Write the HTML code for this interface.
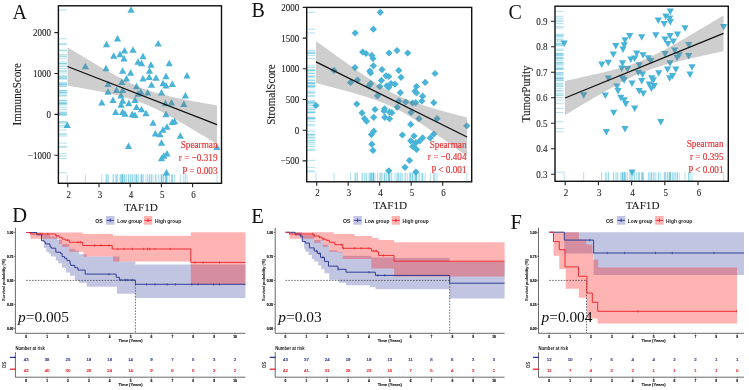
<!DOCTYPE html><html><head><meta charset="utf-8"><style>html,body{margin:0;padding:0;background:#fff;overflow:hidden}svg{display:block;will-change:transform}</style></head><body>
<svg width="749" height="390" viewBox="0 0 749 390">
<rect width="749" height="390" fill="#fff"/>
<text x="12.6" y="18.5" font-family='"Liberation Serif", serif' font-size="20" fill="#111">A</text>
<path d="M58.9,10.0H66.9M131.0,182.8V174.3M58.9,38.8H66.9M117.5,182.8V174.3M58.9,44.6H66.9M106.5,182.8V174.3M58.9,50.8H66.9M124.5,182.8V174.3M58.9,50.0H66.9M133.0,182.8V174.3M58.9,56.0H66.9M113.7,182.8V174.3M58.9,54.6H66.9M120.0,182.8V174.3M58.9,43.8H66.9M158.2,182.8V174.3M58.9,56.6H66.9M143.0,182.8V174.3M58.9,66.5H66.9M85.4,182.8V174.3M58.9,68.5H66.9M106.0,182.8V174.3M58.9,58.8H66.9M124.0,182.8V174.3M58.9,62.0H66.9M138.0,182.8V174.3M58.9,71.0H66.9M122.6,182.8V174.3M58.9,73.0H66.9M130.6,182.8V174.3M58.9,78.8H66.9M126.5,182.8V174.3M58.9,82.4H66.9M121.8,182.8V174.3M58.9,84.2H66.9M108.0,182.8V174.3M58.9,86.5H66.9M136.5,182.8V174.3M58.9,90.4H66.9M116.5,182.8V174.3M58.9,92.0H66.9M108.0,182.8V174.3M58.9,90.4H66.9M122.6,182.8V174.3M58.9,95.8H66.9M121.0,182.8V174.3M58.9,94.0H66.9M138.0,182.8V174.3M58.9,102.7H66.9M101.8,182.8V174.3M58.9,100.4H66.9M113.0,182.8V174.3M58.9,101.0H66.9M122.6,182.8V174.3M58.9,105.0H66.9M121.0,182.8V174.3M58.9,103.5H66.9M128.8,182.8V174.3M58.9,100.4H66.9M135.0,182.8V174.3M58.9,107.3H66.9M136.5,182.8V174.3M58.9,112.2H66.9M115.7,182.8V174.3M58.9,112.3H66.9M122.6,182.8V174.3M58.9,114.0H66.9M125.0,182.8V174.3M58.9,114.5H66.9M132.3,182.8V174.3M58.9,115.4H66.9M135.0,182.8V174.3M58.9,63.5H66.9M141.5,182.8V174.3M58.9,65.0H66.9M151.0,182.8V174.3M58.9,63.5H66.9M169.2,182.8V174.3M58.9,71.0H66.9M149.5,182.8V174.3M58.9,77.3H66.9M149.2,182.8V174.3M58.9,78.0H66.9M156.0,182.8V174.3M58.9,78.8H66.9M143.0,182.8V174.3M58.9,76.5H66.9M166.0,182.8V174.3M58.9,75.8H66.9M187.0,182.8V174.3M58.9,85.0H66.9M151.5,182.8V174.3M58.9,83.5H66.9M163.0,182.8V174.3M58.9,85.8H66.9M166.0,182.8V174.3M58.9,84.2H66.9M172.3,182.8V174.3M58.9,92.7H66.9M161.5,182.8V174.3M58.9,92.7H66.9M147.7,182.8V174.3M58.9,92.0H66.9M140.8,182.8V174.3M58.9,95.8H66.9M185.4,182.8V174.3M58.9,103.5H66.9M165.4,182.8V174.3M58.9,102.7H66.9M171.5,182.8V174.3M58.9,104.2H66.9M183.8,182.8V174.3M58.9,109.6H66.9M141.5,182.8V174.3M58.9,113.5H66.9M146.0,182.8V174.3M58.9,114.5H66.9M166.0,182.8V174.3M58.9,125.4H66.9M67.2,182.8V174.3M58.9,146.3H66.9M128.5,182.8V174.3M58.9,123.0H66.9M153.0,182.8V174.3M58.9,121.5H66.9M174.6,182.8V174.3M58.9,122.3H66.9M172.3,182.8V174.3M58.9,127.0H66.9M167.0,182.8V174.3M58.9,130.0H66.9M163.0,182.8V174.3M58.9,133.8H66.9M155.4,182.8V174.3M58.9,134.6H66.9M160.0,182.8V174.3M58.9,136.0H66.9M180.3,182.8V174.3M58.9,143.0H66.9M161.5,182.8V174.3M58.9,147.3H66.9M217.0,182.8V174.3M58.9,153.8H66.9M167.0,182.8V174.3M58.9,156.0H66.9M163.8,182.8V174.3M58.9,158.5H66.9M161.5,182.8V174.3M58.9,172.8H66.9M166.4,182.8V174.3" stroke="#5cc0dc" stroke-width="0.9" stroke-opacity="0.55" fill="none"/>
<path d="M131.0,6.2L134.6,12.7L127.4,12.7ZM117.5,35.0L121.1,41.5L113.9,41.5ZM106.5,40.8L110.1,47.3L102.9,47.3ZM124.5,47.0L128.1,53.5L120.9,53.5ZM133.0,46.2L136.6,52.7L129.4,52.7ZM113.7,52.2L117.3,58.7L110.1,58.7ZM120.0,50.8L123.6,57.3L116.4,57.3ZM158.2,40.0L161.8,46.5L154.6,46.5ZM143.0,52.8L146.6,59.3L139.4,59.3ZM85.4,62.7L89.0,69.2L81.8,69.2ZM106.0,64.7L109.6,71.2L102.4,71.2ZM124.0,55.0L127.6,61.5L120.4,61.5ZM138.0,58.2L141.6,64.7L134.4,64.7ZM122.6,67.2L126.2,73.7L119.0,73.7ZM130.6,69.2L134.2,75.7L127.0,75.7ZM126.5,75.0L130.1,81.5L122.9,81.5ZM121.8,78.6L125.4,85.1L118.2,85.1ZM108.0,80.4L111.6,86.9L104.4,86.9ZM136.5,82.7L140.1,89.2L132.9,89.2ZM116.5,86.6L120.1,93.1L112.9,93.1ZM108.0,88.2L111.6,94.7L104.4,94.7ZM122.6,86.6L126.2,93.1L119.0,93.1ZM121.0,92.0L124.6,98.5L117.4,98.5ZM138.0,90.2L141.6,96.7L134.4,96.7ZM101.8,98.9L105.4,105.4L98.2,105.4ZM113.0,96.6L116.6,103.1L109.4,103.1ZM122.6,97.2L126.2,103.7L119.0,103.7ZM121.0,101.2L124.6,107.7L117.4,107.7ZM128.8,99.7L132.4,106.2L125.2,106.2ZM135.0,96.6L138.6,103.1L131.4,103.1ZM136.5,103.5L140.1,110.0L132.9,110.0ZM115.7,108.4L119.3,114.9L112.1,114.9ZM122.6,108.5L126.2,115.0L119.0,115.0ZM125.0,110.2L128.6,116.7L121.4,116.7ZM132.3,110.7L135.9,117.2L128.7,117.2ZM135.0,111.6L138.6,118.1L131.4,118.1ZM141.5,59.7L145.1,66.2L137.9,66.2ZM151.0,61.2L154.6,67.7L147.4,67.7ZM169.2,59.7L172.8,66.2L165.6,66.2ZM149.5,67.2L153.1,73.7L145.9,73.7ZM149.2,73.5L152.8,80.0L145.6,80.0ZM156.0,74.2L159.6,80.7L152.4,80.7ZM143.0,75.0L146.6,81.5L139.4,81.5ZM166.0,72.7L169.6,79.2L162.4,79.2ZM187.0,72.0L190.6,78.5L183.4,78.5ZM151.5,81.2L155.1,87.7L147.9,87.7ZM163.0,79.7L166.6,86.2L159.4,86.2ZM166.0,82.0L169.6,88.5L162.4,88.5ZM172.3,80.4L175.9,86.9L168.7,86.9ZM161.5,88.9L165.1,95.4L157.9,95.4ZM147.7,88.9L151.3,95.4L144.1,95.4ZM140.8,88.2L144.4,94.7L137.2,94.7ZM185.4,92.0L189.0,98.5L181.8,98.5ZM165.4,99.7L169.0,106.2L161.8,106.2ZM171.5,98.9L175.1,105.4L167.9,105.4ZM183.8,100.4L187.4,106.9L180.2,106.9ZM141.5,105.8L145.1,112.3L137.9,112.3ZM146.0,109.7L149.6,116.2L142.4,116.2ZM166.0,110.7L169.6,117.2L162.4,117.2ZM67.2,121.6L70.8,128.1L63.6,128.1ZM128.5,142.5L132.1,149.0L124.9,149.0ZM153.0,119.2L156.6,125.7L149.4,125.7ZM174.6,117.7L178.2,124.2L171.0,124.2ZM172.3,118.5L175.9,125.0L168.7,125.0ZM167.0,123.2L170.6,129.7L163.4,129.7ZM163.0,126.2L166.6,132.7L159.4,132.7ZM155.4,130.0L159.0,136.5L151.8,136.5ZM160.0,130.8L163.6,137.3L156.4,137.3ZM180.3,132.2L183.9,138.7L176.7,138.7ZM161.5,139.2L165.1,145.7L157.9,145.7ZM217.0,143.5L220.6,150.0L213.4,150.0ZM167.0,150.0L170.6,156.5L163.4,156.5ZM163.8,152.2L167.4,158.7L160.2,158.7ZM161.5,154.7L165.1,161.2L157.9,161.2ZM166.4,169.0L170.0,175.5L162.8,175.5Z" fill="#35acd3" fill-opacity="0.9"/>
<path d="M67.5,47.3 L71.2,49.6 L75.0,51.8 L78.7,54.1 L82.5,56.3 L86.2,58.6 L89.9,60.8 L93.7,63.0 L97.4,65.2 L101.1,67.4 L104.9,69.5 L108.6,71.6 L112.3,73.7 L116.1,75.8 L119.8,77.8 L123.6,79.7 L127.3,81.6 L131.0,83.4 L134.8,85.1 L138.5,86.7 L142.2,88.2 L146.0,89.6 L149.7,90.9 L153.5,92.1 L157.2,93.2 L160.9,94.2 L164.7,95.1 L168.4,96.0 L172.2,96.9 L175.9,97.7 L179.6,98.5 L183.4,99.3 L187.1,100.0 L190.8,100.7 L194.6,101.4 L198.3,102.1 L202.1,102.8 L205.8,103.4 L209.5,104.1 L213.3,104.7 L217.0,105.4 L217.0,144.0 L213.3,141.7 L209.5,139.4 L205.8,137.2 L202.1,134.9 L198.3,132.7 L194.6,130.5 L190.8,128.2 L187.1,126.1 L183.4,123.9 L179.6,121.7 L175.9,119.6 L172.2,117.5 L168.4,115.5 L164.7,113.5 L160.9,111.5 L157.2,109.6 L153.5,107.8 L149.7,106.1 L146.0,104.5 L142.2,103.0 L138.5,101.6 L134.8,100.3 L131.0,99.1 L127.3,97.9 L123.6,96.9 L119.8,95.9 L116.1,95.0 L112.3,94.2 L108.6,93.3 L104.9,92.6 L101.1,91.8 L97.4,91.1 L93.7,90.3 L89.9,89.6 L86.2,89.0 L82.5,88.3 L78.7,87.6 L75.0,87.0 L71.2,86.3 L67.5,85.7Z" fill="#777777" fill-opacity="0.36"/>
<line x1="67.5" y1="66.5" x2="217.0" y2="124.6" stroke="#111" stroke-width="1.3"/>
<rect x="58.4" y="5.8" width="163.1" height="177.5" fill="none" stroke="#111" stroke-width="1.4"/>
<path d="M67.8,183.3V187.3M99.0,183.3V187.3M130.2,183.3V187.3M161.4,183.3V187.3M192.6,183.3V187.3M58.4,32.6H54.4M58.4,73.5H54.4M58.4,114.4H54.4M58.4,155.3H54.4" stroke="#222" stroke-width="1.1" fill="none"/>
<text transform="translate(68.7,197.5) scale(0.9,1)" font-family='"Liberation Serif", serif' font-size="10" fill="#222" stroke="#222" stroke-width="0.1" text-anchor="middle">2</text>
<text transform="translate(99.9,197.5) scale(0.9,1)" font-family='"Liberation Serif", serif' font-size="10" fill="#222" stroke="#222" stroke-width="0.1" text-anchor="middle">3</text>
<text transform="translate(131.1,197.5) scale(0.9,1)" font-family='"Liberation Serif", serif' font-size="10" fill="#222" stroke="#222" stroke-width="0.1" text-anchor="middle">4</text>
<text transform="translate(162.3,197.5) scale(0.9,1)" font-family='"Liberation Serif", serif' font-size="10" fill="#222" stroke="#222" stroke-width="0.1" text-anchor="middle">5</text>
<text transform="translate(193.5,197.5) scale(0.9,1)" font-family='"Liberation Serif", serif' font-size="10" fill="#222" stroke="#222" stroke-width="0.1" text-anchor="middle">6</text>
<text transform="translate(51.0,36.0) scale(0.9,1)" font-family='"Liberation Serif", serif' font-size="10" fill="#222" stroke="#222" stroke-width="0.1" text-anchor="end">2000</text>
<text transform="translate(51.0,76.9) scale(0.9,1)" font-family='"Liberation Serif", serif' font-size="10" fill="#222" stroke="#222" stroke-width="0.1" text-anchor="end">1000</text>
<text transform="translate(51.0,117.8) scale(0.9,1)" font-family='"Liberation Serif", serif' font-size="10" fill="#222" stroke="#222" stroke-width="0.1" text-anchor="end">0</text>
<text transform="translate(51.0,158.7) scale(0.9,1)" font-family='"Liberation Serif", serif' font-size="10" fill="#222" stroke="#222" stroke-width="0.1" text-anchor="end">−1000</text>
<text transform="translate(20.9,94.2) rotate(-90) scale(0.92,1)" font-family='"Liberation Serif", serif' font-size="12.1" fill="#222" stroke="#222" stroke-width="0.1" text-anchor="middle">ImmuneScore</text>
<text x="140.9" y="211.3" font-family='"Liberation Serif", serif' font-size="11.2" fill="#222" stroke="#222" stroke-width="0.1" text-anchor="middle">TAF1D</text>
<text transform="translate(217.5,148.2) scale(0.92,1)" font-family='"Liberation Serif", serif' font-size="10" fill="#e6393b" stroke="#e6393b" stroke-width="0.2" text-anchor="end">Spearman</text>
<text transform="translate(217.5,161.1) scale(0.92,1)" font-family='"Liberation Serif", serif' font-size="10" fill="#e6393b" stroke="#e6393b" stroke-width="0.2" text-anchor="end">r = −0.319</text>
<text transform="translate(217.5,173.8) scale(0.92,1)" font-family='"Liberation Serif", serif' font-size="10" fill="#e6393b" stroke="#e6393b" stroke-width="0.2" text-anchor="end">P = 0.003</text>
<text x="251.5" y="17.0" font-family='"Liberation Serif", serif' font-size="20" fill="#111">B</text>
<path d="M307.2,12.3H315.2M380.2,181.3V172.8M307.2,29.2H315.2M373.4,181.3V172.8M307.2,33.0H315.2M355.2,181.3V172.8M307.2,52.0H315.2M362.6,181.3V172.8M307.2,53.5H315.2M366.0,181.3V172.8M307.2,55.4H315.2M371.8,181.3V172.8M307.2,58.5H315.2M373.0,181.3V172.8M307.2,53.0H315.2M389.0,181.3V172.8M307.2,50.5H315.2M397.0,181.3V172.8M307.2,53.0H315.2M407.7,181.3V172.8M307.2,70.4H315.2M334.0,181.3V172.8M307.2,67.6H315.2M355.0,181.3V172.8M307.2,82.4H315.2M350.6,181.3V172.8M307.2,80.0H315.2M357.5,181.3V172.8M307.2,71.0H315.2M369.8,181.3V172.8M307.2,73.0H315.2M370.6,181.3V172.8M307.2,65.8H315.2M373.4,181.3V172.8M307.2,69.6H315.2M382.0,181.3V172.8M307.2,75.8H315.2M386.0,181.3V172.8M307.2,80.4H315.2M381.4,181.3V172.8M307.2,83.5H315.2M370.6,181.3V172.8M307.2,85.8H315.2M369.0,181.3V172.8M307.2,86.5H315.2M379.8,181.3V172.8M307.2,85.8H315.2M386.8,181.3V172.8M307.2,95.8H315.2M377.5,181.3V172.8M307.2,105.5H315.2M316.0,181.3V172.8M307.2,104.0H315.2M356.8,181.3V172.8M307.2,112.9H315.2M362.0,181.3V172.8M307.2,109.5H315.2M375.0,181.3V172.8M307.2,108.8H315.2M384.5,181.3V172.8M307.2,112.0H315.2M389.5,181.3V172.8M307.2,70.4H315.2M398.8,181.3V172.8M307.2,77.3H315.2M401.0,181.3V172.8M307.2,76.5H315.2M388.8,181.3V172.8M307.2,83.5H315.2M391.0,181.3V172.8M307.2,84.2H315.2M395.0,181.3V172.8M307.2,87.3H315.2M388.8,181.3V172.8M307.2,73.5H315.2M435.0,181.3V172.8M307.2,82.4H315.2M425.2,181.3V172.8M307.2,86.5H315.2M416.5,181.3V172.8M307.2,91.2H315.2M415.0,181.3V172.8M307.2,93.0H315.2M416.5,181.3V172.8M307.2,92.7H315.2M400.3,181.3V172.8M307.2,96.2H315.2M422.6,181.3V172.8M307.2,101.0H315.2M421.8,181.3V172.8M307.2,102.7H315.2M433.8,181.3V172.8M307.2,101.0H315.2M398.8,181.3V172.8M307.2,102.0H315.2M405.7,181.3V172.8M307.2,103.0H315.2M412.6,181.3V172.8M307.2,102.7H315.2M415.7,181.3V172.8M307.2,107.3H315.2M397.2,181.3V172.8M307.2,112.7H315.2M391.8,181.3V172.8M307.2,112.5H315.2M411.0,181.3V172.8M307.2,118.7H315.2M364.6,181.3V172.8M307.2,121.2H315.2M366.6,181.3V172.8M307.2,117.3H315.2M373.7,181.3V172.8M307.2,117.3H315.2M384.8,181.3V172.8M307.2,111.0H315.2M384.0,181.3V172.8M307.2,118.7H315.2M389.5,181.3V172.8M307.2,131.2H315.2M373.7,181.3V172.8M307.2,134.6H315.2M371.4,181.3V172.8M307.2,144.2H315.2M371.8,181.3V172.8M307.2,150.4H315.2M373.0,181.3V172.8M307.2,170.8H315.2M388.8,181.3V172.8M307.2,118.7H315.2M419.0,181.3V172.8M307.2,118.7H315.2M437.0,181.3V172.8M307.2,125.8H315.2M466.8,181.3V172.8M307.2,124.4H315.2M410.7,181.3V172.8M307.2,135.0H315.2M402.4,181.3V172.8M307.2,136.0H315.2M414.0,181.3V172.8M307.2,140.8H315.2M410.7,181.3V172.8M307.2,142.7H315.2M415.9,181.3V172.8M307.2,137.9H315.2M422.6,181.3V172.8M307.2,137.9H315.2M430.3,181.3V172.8M307.2,134.0H315.2M433.8,181.3V172.8M307.2,146.5H315.2M412.6,181.3V172.8M307.2,149.4H315.2M416.5,181.3V172.8M307.2,140.8H315.2M419.7,181.3V172.8M307.2,160.4H315.2M409.5,181.3V172.8M307.2,167.3H315.2M405.0,181.3V172.8M307.2,172.0H315.2M415.9,181.3V172.8" stroke="#5cc0dc" stroke-width="0.9" stroke-opacity="0.55" fill="none"/>
<path d="M380.2,8.7L383.8,12.3L380.2,15.9L376.6,12.3ZM373.4,25.6L377.0,29.2L373.4,32.8L369.8,29.2ZM355.2,29.4L358.8,33.0L355.2,36.6L351.6,33.0ZM362.6,48.4L366.2,52.0L362.6,55.6L359.0,52.0ZM366.0,49.9L369.6,53.5L366.0,57.1L362.4,53.5ZM371.8,51.8L375.4,55.4L371.8,59.0L368.2,55.4ZM373.0,54.9L376.6,58.5L373.0,62.1L369.4,58.5ZM389.0,49.4L392.6,53.0L389.0,56.6L385.4,53.0ZM397.0,46.9L400.6,50.5L397.0,54.1L393.4,50.5ZM407.7,49.4L411.3,53.0L407.7,56.6L404.1,53.0ZM334.0,66.8L337.6,70.4L334.0,74.0L330.4,70.4ZM355.0,64.0L358.6,67.6L355.0,71.2L351.4,67.6ZM350.6,78.8L354.2,82.4L350.6,86.0L347.0,82.4ZM357.5,76.4L361.1,80.0L357.5,83.6L353.9,80.0ZM369.8,67.4L373.4,71.0L369.8,74.6L366.2,71.0ZM370.6,69.4L374.2,73.0L370.6,76.6L367.0,73.0ZM373.4,62.2L377.0,65.8L373.4,69.4L369.8,65.8ZM382.0,66.0L385.6,69.6L382.0,73.2L378.4,69.6ZM386.0,72.2L389.6,75.8L386.0,79.4L382.4,75.8ZM381.4,76.8L385.0,80.4L381.4,84.0L377.8,80.4ZM370.6,79.9L374.2,83.5L370.6,87.1L367.0,83.5ZM369.0,82.2L372.6,85.8L369.0,89.4L365.4,85.8ZM379.8,82.9L383.4,86.5L379.8,90.1L376.2,86.5ZM386.8,82.2L390.4,85.8L386.8,89.4L383.2,85.8ZM377.5,92.2L381.1,95.8L377.5,99.4L373.9,95.8ZM316.0,101.9L319.6,105.5L316.0,109.1L312.4,105.5ZM356.8,100.4L360.4,104.0L356.8,107.6L353.2,104.0ZM362.0,109.3L365.6,112.9L362.0,116.5L358.4,112.9ZM375.0,105.9L378.6,109.5L375.0,113.1L371.4,109.5ZM384.5,105.2L388.1,108.8L384.5,112.4L380.9,108.8ZM389.5,108.4L393.1,112.0L389.5,115.6L385.9,112.0ZM398.8,66.8L402.4,70.4L398.8,74.0L395.2,70.4ZM401.0,73.7L404.6,77.3L401.0,80.9L397.4,77.3ZM388.8,72.9L392.4,76.5L388.8,80.1L385.2,76.5ZM391.0,79.9L394.6,83.5L391.0,87.1L387.4,83.5ZM395.0,80.6L398.6,84.2L395.0,87.8L391.4,84.2ZM388.8,83.7L392.4,87.3L388.8,90.9L385.2,87.3ZM435.0,69.9L438.6,73.5L435.0,77.1L431.4,73.5ZM425.2,78.8L428.8,82.4L425.2,86.0L421.6,82.4ZM416.5,82.9L420.1,86.5L416.5,90.1L412.9,86.5ZM415.0,87.6L418.6,91.2L415.0,94.8L411.4,91.2ZM416.5,89.4L420.1,93.0L416.5,96.6L412.9,93.0ZM400.3,89.1L403.9,92.7L400.3,96.3L396.7,92.7ZM422.6,92.6L426.2,96.2L422.6,99.8L419.0,96.2ZM421.8,97.4L425.4,101.0L421.8,104.6L418.2,101.0ZM433.8,99.1L437.4,102.7L433.8,106.3L430.2,102.7ZM398.8,97.4L402.4,101.0L398.8,104.6L395.2,101.0ZM405.7,98.4L409.3,102.0L405.7,105.6L402.1,102.0ZM412.6,99.4L416.2,103.0L412.6,106.6L409.0,103.0ZM415.7,99.1L419.3,102.7L415.7,106.3L412.1,102.7ZM397.2,103.7L400.8,107.3L397.2,110.9L393.6,107.3ZM391.8,109.1L395.4,112.7L391.8,116.3L388.2,112.7ZM411.0,108.9L414.6,112.5L411.0,116.1L407.4,112.5ZM364.6,115.1L368.2,118.7L364.6,122.3L361.0,118.7ZM366.6,117.6L370.2,121.2L366.6,124.8L363.0,121.2ZM373.7,113.7L377.3,117.3L373.7,120.9L370.1,117.3ZM384.8,113.7L388.4,117.3L384.8,120.9L381.2,117.3ZM384.0,107.4L387.6,111.0L384.0,114.6L380.4,111.0ZM389.5,115.1L393.1,118.7L389.5,122.3L385.9,118.7ZM373.7,127.6L377.3,131.2L373.7,134.8L370.1,131.2ZM371.4,131.0L375.0,134.6L371.4,138.2L367.8,134.6ZM371.8,140.6L375.4,144.2L371.8,147.8L368.2,144.2ZM373.0,146.8L376.6,150.4L373.0,154.0L369.4,150.4ZM388.8,167.2L392.4,170.8L388.8,174.4L385.2,170.8ZM419.0,115.1L422.6,118.7L419.0,122.3L415.4,118.7ZM437.0,115.1L440.6,118.7L437.0,122.3L433.4,118.7ZM466.8,122.2L470.4,125.8L466.8,129.4L463.2,125.8ZM410.7,120.8L414.3,124.4L410.7,128.0L407.1,124.4ZM402.4,131.4L406.0,135.0L402.4,138.6L398.8,135.0ZM414.0,132.4L417.6,136.0L414.0,139.6L410.4,136.0ZM410.7,137.2L414.3,140.8L410.7,144.4L407.1,140.8ZM415.9,139.1L419.5,142.7L415.9,146.3L412.3,142.7ZM422.6,134.3L426.2,137.9L422.6,141.5L419.0,137.9ZM430.3,134.3L433.9,137.9L430.3,141.5L426.7,137.9ZM433.8,130.4L437.4,134.0L433.8,137.6L430.2,134.0ZM412.6,142.9L416.2,146.5L412.6,150.1L409.0,146.5ZM416.5,145.8L420.1,149.4L416.5,153.0L412.9,149.4ZM419.7,137.2L423.3,140.8L419.7,144.4L416.1,140.8ZM409.5,156.8L413.1,160.4L409.5,164.0L405.9,160.4ZM405.0,163.7L408.6,167.3L405.0,170.9L401.4,167.3ZM415.9,168.4L419.5,172.0L415.9,175.6L412.3,172.0Z" fill="#35acd3" fill-opacity="0.9"/>
<path d="M316.0,40.9 L319.8,43.7 L323.6,46.4 L327.3,49.2 L331.1,51.9 L334.9,54.7 L338.6,57.4 L342.4,60.1 L346.2,62.8 L350.0,65.5 L353.8,68.2 L357.5,70.8 L361.3,73.4 L365.1,76.0 L368.9,78.6 L372.6,81.1 L376.4,83.5 L380.2,85.9 L383.9,88.1 L387.7,90.3 L391.5,92.4 L395.3,94.3 L399.1,96.1 L402.8,97.8 L406.6,99.3 L410.4,100.8 L414.1,102.2 L417.9,103.5 L421.7,104.7 L425.5,105.9 L429.2,107.1 L433.0,108.2 L436.8,109.3 L440.6,110.4 L444.4,111.5 L448.1,112.5 L451.9,113.6 L455.7,114.6 L459.4,115.6 L463.2,116.6 L467.0,117.6 L467.0,156.3 L463.2,153.5 L459.4,150.8 L455.7,148.1 L451.9,145.3 L448.1,142.6 L444.4,139.9 L440.6,137.2 L436.8,134.5 L433.0,131.9 L429.2,129.3 L425.5,126.7 L421.7,124.1 L417.9,121.6 L414.1,119.2 L410.4,116.8 L406.6,114.5 L402.8,112.3 L399.1,110.2 L395.3,108.3 L391.5,106.5 L387.7,104.8 L383.9,103.2 L380.2,101.7 L376.4,100.3 L372.6,99.0 L368.9,97.8 L365.1,96.5 L361.3,95.4 L357.5,94.3 L353.8,93.1 L350.0,92.1 L346.2,91.0 L342.4,90.0 L338.6,88.9 L334.9,87.9 L331.1,86.9 L327.3,85.9 L323.6,84.9 L319.8,83.9 L316.0,82.9Z" fill="#777777" fill-opacity="0.36"/>
<line x1="316.0" y1="61.9" x2="467.0" y2="137.0" stroke="#111" stroke-width="1.3"/>
<rect x="306.7" y="7.4" width="165.0" height="174.4" fill="none" stroke="#111" stroke-width="1.4"/>
<path d="M316.7,181.8V185.8M348.2,181.8V185.8M379.7,181.8V185.8M411.2,181.8V185.8M442.7,181.8V185.8M306.7,7.4H302.7M306.7,38.1H302.7M306.7,68.8H302.7M306.7,99.5H302.7M306.7,130.2H302.7M306.7,160.9H302.7" stroke="#222" stroke-width="1.1" fill="none"/>
<text transform="translate(317.6,196.0) scale(0.9,1)" font-family='"Liberation Serif", serif' font-size="10" fill="#222" stroke="#222" stroke-width="0.1" text-anchor="middle">2</text>
<text transform="translate(349.1,196.0) scale(0.9,1)" font-family='"Liberation Serif", serif' font-size="10" fill="#222" stroke="#222" stroke-width="0.1" text-anchor="middle">3</text>
<text transform="translate(380.6,196.0) scale(0.9,1)" font-family='"Liberation Serif", serif' font-size="10" fill="#222" stroke="#222" stroke-width="0.1" text-anchor="middle">4</text>
<text transform="translate(412.1,196.0) scale(0.9,1)" font-family='"Liberation Serif", serif' font-size="10" fill="#222" stroke="#222" stroke-width="0.1" text-anchor="middle">5</text>
<text transform="translate(443.6,196.0) scale(0.9,1)" font-family='"Liberation Serif", serif' font-size="10" fill="#222" stroke="#222" stroke-width="0.1" text-anchor="middle">6</text>
<text transform="translate(299.3,10.8) scale(0.9,1)" font-family='"Liberation Serif", serif' font-size="10" fill="#222" stroke="#222" stroke-width="0.1" text-anchor="end">2000</text>
<text transform="translate(299.3,41.5) scale(0.9,1)" font-family='"Liberation Serif", serif' font-size="10" fill="#222" stroke="#222" stroke-width="0.1" text-anchor="end">1500</text>
<text transform="translate(299.3,72.2) scale(0.9,1)" font-family='"Liberation Serif", serif' font-size="10" fill="#222" stroke="#222" stroke-width="0.1" text-anchor="end">1000</text>
<text transform="translate(299.3,102.9) scale(0.9,1)" font-family='"Liberation Serif", serif' font-size="10" fill="#222" stroke="#222" stroke-width="0.1" text-anchor="end">500</text>
<text transform="translate(299.3,133.6) scale(0.9,1)" font-family='"Liberation Serif", serif' font-size="10" fill="#222" stroke="#222" stroke-width="0.1" text-anchor="end">0</text>
<text transform="translate(299.3,164.3) scale(0.9,1)" font-family='"Liberation Serif", serif' font-size="10" fill="#222" stroke="#222" stroke-width="0.1" text-anchor="end">−500</text>
<text transform="translate(274.5,94.6) rotate(-90) scale(0.92,1)" font-family='"Liberation Serif", serif' font-size="12.1" fill="#222" stroke="#222" stroke-width="0.1" text-anchor="middle">StromalScore</text>
<text x="390.2" y="209.0" font-family='"Liberation Serif", serif' font-size="11.2" fill="#222" stroke="#222" stroke-width="0.1" text-anchor="middle">TAF1D</text>
<text transform="translate(466.5,147.6) scale(0.92,1)" font-family='"Liberation Serif", serif' font-size="10" fill="#e6393b" stroke="#e6393b" stroke-width="0.2" text-anchor="end">Spearman</text>
<text transform="translate(466.5,160.4) scale(0.92,1)" font-family='"Liberation Serif", serif' font-size="10" fill="#e6393b" stroke="#e6393b" stroke-width="0.2" text-anchor="end">r = −0.404</text>
<text transform="translate(466.5,173.2) scale(0.92,1)" font-family='"Liberation Serif", serif' font-size="10" fill="#e6393b" stroke="#e6393b" stroke-width="0.2" text-anchor="end">P &lt; 0.001</text>
<text x="508.5" y="18.5" font-family='"Liberation Serif", serif' font-size="20" fill="#111">C</text>
<path d="M555.5,43.3H563.5M564.2,180.8V172.3M555.5,35.8H563.5M629.7,180.8V172.3M555.5,40.0H563.5M625.0,180.8V172.3M555.5,37.0H563.5M641.7,180.8V172.3M555.5,45.8H563.5M615.8,180.8V172.3M555.5,45.0H563.5M624.2,180.8V172.3M555.5,49.2H563.5M623.0,180.8V172.3M555.5,54.2H563.5M613.3,180.8V172.3M555.5,53.3H563.5M636.7,180.8V172.3M555.5,59.2H563.5M630.8,180.8V172.3M555.5,58.3H563.5M634.7,180.8V172.3M555.5,55.0H563.5M643.0,180.8V172.3M555.5,62.5H563.5M608.3,180.8V172.3M555.5,63.0H563.5M622.5,180.8V172.3M555.5,64.2H563.5M601.7,180.8V172.3M555.5,11.3H563.5M670.3,180.8V172.3M555.5,16.3H563.5M665.8,180.8V172.3M555.5,20.3H563.5M658.3,180.8V172.3M555.5,23.7H563.5M664.2,180.8V172.3M555.5,21.7H563.5M670.3,180.8V172.3M555.5,18.3H563.5M669.7,180.8V172.3M555.5,28.0H563.5M685.0,180.8V172.3M555.5,26.7H563.5M723.7,180.8V172.3M555.5,35.0H563.5M655.8,180.8V172.3M555.5,35.8H563.5M670.0,180.8V172.3M555.5,34.2H563.5M677.5,180.8V172.3M555.5,39.2H563.5M665.0,180.8V172.3M555.5,41.3H563.5M673.3,180.8V172.3M555.5,43.7H563.5M668.0,180.8V172.3M555.5,44.7H563.5M688.7,180.8V172.3M555.5,50.3H563.5M674.7,180.8V172.3M555.5,53.7H563.5M665.0,180.8V172.3M555.5,55.0H563.5M679.2,180.8V172.3M555.5,57.5H563.5M677.0,180.8V172.3M555.5,55.8H563.5M688.7,180.8V172.3M555.5,58.0H563.5M648.3,180.8V172.3M555.5,60.8H563.5M650.8,180.8V172.3M555.5,63.0H563.5M670.0,180.8V172.3M555.5,68.3H563.5M621.7,180.8V172.3M555.5,68.7H563.5M627.5,180.8V172.3M555.5,65.0H563.5M639.2,180.8V172.3M555.5,72.5H563.5M638.3,180.8V172.3M555.5,74.2H563.5M642.5,180.8V172.3M555.5,78.3H563.5M608.3,180.8V172.3M555.5,78.3H563.5M622.5,180.8V172.3M555.5,80.0H563.5M624.2,180.8V172.3M555.5,83.3H563.5M632.0,180.8V172.3M555.5,80.8H563.5M641.7,180.8V172.3M555.5,86.3H563.5M617.0,180.8V172.3M555.5,90.8H563.5M618.0,180.8V172.3M555.5,90.8H563.5M639.2,180.8V172.3M555.5,93.3H563.5M643.3,180.8V172.3M555.5,95.0H563.5M583.7,180.8V172.3M555.5,95.3H563.5M605.3,180.8V172.3M555.5,97.5H563.5M620.8,180.8V172.3M555.5,100.0H563.5M624.2,180.8V172.3M555.5,103.7H563.5M625.8,180.8V172.3M555.5,108.3H563.5M634.7,180.8V172.3M555.5,112.5H563.5M613.7,180.8V172.3M555.5,69.2H563.5M667.5,180.8V172.3M555.5,69.2H563.5M675.8,180.8V172.3M555.5,67.0H563.5M692.0,180.8V172.3M555.5,74.2H563.5M690.0,180.8V172.3M555.5,73.0H563.5M658.7,180.8V172.3M555.5,75.8H563.5M672.5,180.8V172.3M555.5,78.0H563.5M669.7,180.8V172.3M555.5,78.0H563.5M651.7,180.8V172.3M555.5,80.0H563.5M653.3,180.8V172.3M555.5,84.2H563.5M649.2,180.8V172.3M555.5,85.8H563.5M654.2,180.8V172.3M555.5,88.3H563.5M651.3,180.8V172.3M555.5,121.7H563.5M660.8,180.8V172.3M555.5,131.8H563.5M606.4,180.8V172.3M555.5,128.6H563.5M625.0,180.8V172.3M555.5,172.2H563.5M632.1,180.8V172.3" stroke="#5cc0dc" stroke-width="0.9" stroke-opacity="0.55" fill="none"/>
<path d="M564.2,47.1L567.8,40.6L560.6,40.6ZM629.7,39.6L633.3,33.1L626.1,33.1ZM625.0,43.8L628.6,37.3L621.4,37.3ZM641.7,40.8L645.3,34.3L638.1,34.3ZM615.8,49.6L619.4,43.1L612.2,43.1ZM624.2,48.8L627.8,42.3L620.6,42.3ZM623.0,53.0L626.6,46.5L619.4,46.5ZM613.3,58.0L616.9,51.5L609.7,51.5ZM636.7,57.1L640.3,50.6L633.1,50.6ZM630.8,63.0L634.4,56.5L627.2,56.5ZM634.7,62.1L638.3,55.6L631.1,55.6ZM643.0,58.8L646.6,52.3L639.4,52.3ZM608.3,66.3L611.9,59.8L604.7,59.8ZM622.5,66.8L626.1,60.3L618.9,60.3ZM601.7,68.0L605.3,61.5L598.1,61.5ZM670.3,15.1L673.9,8.6L666.7,8.6ZM665.8,20.1L669.4,13.6L662.2,13.6ZM658.3,24.1L661.9,17.6L654.7,17.6ZM664.2,27.5L667.8,21.0L660.6,21.0ZM670.3,25.5L673.9,19.0L666.7,19.0ZM669.7,22.1L673.3,15.6L666.1,15.6ZM685.0,31.8L688.6,25.3L681.4,25.3ZM723.7,30.5L727.3,24.0L720.1,24.0ZM655.8,38.8L659.4,32.3L652.2,32.3ZM670.0,39.6L673.6,33.1L666.4,33.1ZM677.5,38.0L681.1,31.5L673.9,31.5ZM665.0,43.0L668.6,36.5L661.4,36.5ZM673.3,45.1L676.9,38.6L669.7,38.6ZM668.0,47.5L671.6,41.0L664.4,41.0ZM688.7,48.5L692.3,42.0L685.1,42.0ZM674.7,54.1L678.3,47.6L671.1,47.6ZM665.0,57.5L668.6,51.0L661.4,51.0ZM679.2,58.8L682.8,52.3L675.6,52.3ZM677.0,61.3L680.6,54.8L673.4,54.8ZM688.7,59.6L692.3,53.1L685.1,53.1ZM648.3,61.8L651.9,55.3L644.7,55.3ZM650.8,64.6L654.4,58.1L647.2,58.1ZM670.0,66.8L673.6,60.3L666.4,60.3ZM621.7,72.1L625.3,65.6L618.1,65.6ZM627.5,72.5L631.1,66.0L623.9,66.0ZM639.2,68.8L642.8,62.3L635.6,62.3ZM638.3,76.3L641.9,69.8L634.7,69.8ZM642.5,78.0L646.1,71.5L638.9,71.5ZM608.3,82.1L611.9,75.6L604.7,75.6ZM622.5,82.1L626.1,75.6L618.9,75.6ZM624.2,83.8L627.8,77.3L620.6,77.3ZM632.0,87.1L635.6,80.6L628.4,80.6ZM641.7,84.6L645.3,78.1L638.1,78.1ZM617.0,90.1L620.6,83.6L613.4,83.6ZM618.0,94.6L621.6,88.1L614.4,88.1ZM639.2,94.6L642.8,88.1L635.6,88.1ZM643.3,97.1L646.9,90.6L639.7,90.6ZM583.7,98.8L587.3,92.3L580.1,92.3ZM605.3,99.1L608.9,92.6L601.7,92.6ZM620.8,101.3L624.4,94.8L617.2,94.8ZM624.2,103.8L627.8,97.3L620.6,97.3ZM625.8,107.5L629.4,101.0L622.2,101.0ZM634.7,112.1L638.3,105.6L631.1,105.6ZM613.7,116.3L617.3,109.8L610.1,109.8ZM667.5,73.0L671.1,66.5L663.9,66.5ZM675.8,73.0L679.4,66.5L672.2,66.5ZM692.0,70.8L695.6,64.3L688.4,64.3ZM690.0,78.0L693.6,71.5L686.4,71.5ZM658.7,76.8L662.3,70.3L655.1,70.3ZM672.5,79.6L676.1,73.1L668.9,73.1ZM669.7,81.8L673.3,75.3L666.1,75.3ZM651.7,81.8L655.3,75.3L648.1,75.3ZM653.3,83.8L656.9,77.3L649.7,77.3ZM649.2,88.0L652.8,81.5L645.6,81.5ZM654.2,89.6L657.8,83.1L650.6,83.1ZM651.3,92.1L654.9,85.6L647.7,85.6ZM660.8,125.5L664.4,119.0L657.2,119.0ZM606.4,135.6L610.0,129.1L602.8,129.1ZM625.0,132.4L628.6,125.9L621.4,125.9ZM632.1,176.0L635.7,169.5L628.5,169.5Z" fill="#35acd3" fill-opacity="0.9"/>
<path d="M565.0,80.9 L569.0,80.1 L572.9,79.2 L576.9,78.4 L580.9,77.5 L584.8,76.6 L588.8,75.7 L592.7,74.8 L596.7,73.9 L600.7,73.0 L604.6,72.0 L608.6,71.1 L612.5,70.0 L616.5,69.0 L620.5,67.9 L624.4,66.7 L628.4,65.5 L632.4,64.2 L636.3,62.8 L640.3,61.3 L644.2,59.6 L648.2,57.9 L652.2,56.1 L656.1,54.1 L660.1,52.1 L664.1,50.0 L668.0,47.9 L672.0,45.7 L676.0,43.5 L679.9,41.2 L683.9,38.9 L687.8,36.6 L691.8,34.3 L695.8,32.0 L699.7,29.6 L703.7,27.3 L707.6,24.9 L711.6,22.5 L715.6,20.2 L719.5,17.8 L723.5,15.4 L723.5,51.3 L719.5,52.1 L715.6,53.0 L711.6,53.8 L707.6,54.7 L703.7,55.5 L699.7,56.4 L695.8,57.3 L691.8,58.2 L687.8,59.1 L683.9,60.1 L679.9,61.0 L676.0,62.0 L672.0,63.0 L668.0,64.0 L664.1,65.1 L660.1,66.3 L656.1,67.5 L652.2,68.8 L648.2,70.2 L644.2,71.7 L640.3,73.3 L636.3,75.0 L632.4,76.8 L628.4,78.8 L624.4,80.8 L620.5,82.8 L616.5,85.0 L612.5,87.2 L608.6,89.4 L604.6,91.6 L600.7,93.9 L596.7,96.2 L592.7,98.5 L588.8,100.9 L584.8,103.2 L580.9,105.6 L576.9,107.9 L572.9,110.3 L569.0,112.7 L565.0,115.1Z" fill="#777777" fill-opacity="0.36"/>
<line x1="565.0" y1="98.0" x2="723.5" y2="33.3" stroke="#111" stroke-width="1.3"/>
<rect x="555.0" y="6.2" width="173.3" height="175.1" fill="none" stroke="#111" stroke-width="1.4"/>
<path d="M565.2,181.3V185.3M598.4,181.3V185.3M631.6,181.3V185.3M664.8,181.3V185.3M698.0,181.3V185.3M555.0,21.3H551.0M555.0,46.8H551.0M555.0,72.3H551.0M555.0,97.7H551.0M555.0,123.2H551.0M555.0,148.7H551.0M555.0,174.2H551.0" stroke="#222" stroke-width="1.1" fill="none"/>
<text transform="translate(566.1,195.5) scale(0.9,1)" font-family='"Liberation Serif", serif' font-size="10" fill="#222" stroke="#222" stroke-width="0.1" text-anchor="middle">2</text>
<text transform="translate(599.3,195.5) scale(0.9,1)" font-family='"Liberation Serif", serif' font-size="10" fill="#222" stroke="#222" stroke-width="0.1" text-anchor="middle">3</text>
<text transform="translate(632.5,195.5) scale(0.9,1)" font-family='"Liberation Serif", serif' font-size="10" fill="#222" stroke="#222" stroke-width="0.1" text-anchor="middle">4</text>
<text transform="translate(665.7,195.5) scale(0.9,1)" font-family='"Liberation Serif", serif' font-size="10" fill="#222" stroke="#222" stroke-width="0.1" text-anchor="middle">5</text>
<text transform="translate(698.9,195.5) scale(0.9,1)" font-family='"Liberation Serif", serif' font-size="10" fill="#222" stroke="#222" stroke-width="0.1" text-anchor="middle">6</text>
<text transform="translate(547.6,24.7) scale(0.9,1)" font-family='"Liberation Serif", serif' font-size="10" fill="#222" stroke="#222" stroke-width="0.1" text-anchor="end">0.9</text>
<text transform="translate(547.6,50.2) scale(0.9,1)" font-family='"Liberation Serif", serif' font-size="10" fill="#222" stroke="#222" stroke-width="0.1" text-anchor="end">0.8</text>
<text transform="translate(547.6,75.7) scale(0.9,1)" font-family='"Liberation Serif", serif' font-size="10" fill="#222" stroke="#222" stroke-width="0.1" text-anchor="end">0.7</text>
<text transform="translate(547.6,101.1) scale(0.9,1)" font-family='"Liberation Serif", serif' font-size="10" fill="#222" stroke="#222" stroke-width="0.1" text-anchor="end">0.6</text>
<text transform="translate(547.6,126.6) scale(0.9,1)" font-family='"Liberation Serif", serif' font-size="10" fill="#222" stroke="#222" stroke-width="0.1" text-anchor="end">0.5</text>
<text transform="translate(547.6,152.1) scale(0.9,1)" font-family='"Liberation Serif", serif' font-size="10" fill="#222" stroke="#222" stroke-width="0.1" text-anchor="end">0.4</text>
<text transform="translate(547.6,177.6) scale(0.9,1)" font-family='"Liberation Serif", serif' font-size="10" fill="#222" stroke="#222" stroke-width="0.1" text-anchor="end">0.3</text>
<text transform="translate(530.0,94.0) rotate(-90) scale(0.92,1)" font-family='"Liberation Serif", serif' font-size="12.1" fill="#222" stroke="#222" stroke-width="0.1" text-anchor="middle">TumorPurity</text>
<text x="642.6" y="209.0" font-family='"Liberation Serif", serif' font-size="11.2" fill="#222" stroke="#222" stroke-width="0.1" text-anchor="middle">TAF1D</text>
<text transform="translate(723.5,146.9) scale(0.92,1)" font-family='"Liberation Serif", serif' font-size="10" fill="#e6393b" stroke="#e6393b" stroke-width="0.2" text-anchor="end">Spearman</text>
<text transform="translate(723.5,160.4) scale(0.92,1)" font-family='"Liberation Serif", serif' font-size="10" fill="#e6393b" stroke="#e6393b" stroke-width="0.2" text-anchor="end">r = 0.395</text>
<text transform="translate(723.5,172.6) scale(0.92,1)" font-family='"Liberation Serif", serif' font-size="10" fill="#e6393b" stroke="#e6393b" stroke-width="0.2" text-anchor="end">P &lt; 0.001</text>
<text x="12.3" y="221.5" font-family='"Liberation Serif", serif' font-size="20.5" fill="#111">D</text>
<path d="M36.7,232.5 L41.5,232.5 L41.5,234.5 L50.0,234.5 L50.0,236.5 L57.4,236.5 L57.4,240.0 L62.1,240.0 L62.1,244.0 L69.3,244.0 L69.3,248.7 L74.8,248.7 L74.8,250.5 L78.8,250.5 L78.8,254.2 L86.8,254.2 L86.8,256.6 L119.4,256.6 L119.4,261.5 L135.4,261.5 L135.4,264.4 L245.5,264.4 L245.5,297.9 L135.4,297.9 L135.4,293.8 L117.0,293.8 L117.0,286.8 L86.8,286.8 L86.8,282.8 L78.8,282.8 L78.8,280.5 L74.8,280.5 L74.8,275.7 L70.0,275.7 L70.0,272.5 L66.1,272.5 L66.1,267.7 L62.1,267.7 L62.1,263.3 L58.2,263.3 L58.2,260.6 L55.8,260.6 L55.8,256.6 L51.0,256.6 L51.0,253.5 L48.6,253.5 L48.6,251.8 L46.2,251.8 L46.2,247.9 L44.0,247.9 L44.0,240.7 L42.3,240.7 L42.3,236.0 L36.7,236.0Z" fill="#1f2f98" fill-opacity="0.28"/>
<path d="M30.3,232.5 L82.8,232.5 L82.8,234.0 L113.0,234.0 L113.0,235.8 L190.8,235.8 L190.8,232.3 L245.5,232.3 L245.5,284.2 L190.8,284.2 L190.8,261.4 L113.0,261.4 L113.0,256.6 L83.6,256.6 L83.6,251.8 L69.3,251.8 L69.3,247.0 L62.1,247.0 L62.1,243.9 L59.0,243.9 L59.0,238.8 L30.3,238.8Z" fill="#ff1a1a" fill-opacity="0.33"/>
<path d="M26.2,280.4H135.4M135.4,284.3V333" stroke="#333" stroke-width="0.7" stroke-dasharray="1.6,1.3" fill="none"/>
<path d="M26.3,232.5H36.7V234.4H41.5V240.7H44.0V242.0H45.4V243.9H50.0V247.0H51.5V248.2H55.8V252.2H60.5V253.4H62.1V256.6H64.5V258.2H66.9V260.6H70.0V263.8H70.8V265.4H74.8V267.7H78.0V270.1H85.2V274.1H116.2V277.3H119.4V280.0H135.4V284.3H245.5" stroke="#2b3990" stroke-width="0.95" fill="none"/>
<path d="M26.3,232.5H30.3V234.0H55.8V235.9H59.0V237.2H62.1V239.1H65.3V240.2H69.3V242.3H82.8V245.5H112.2V249.0H190.8V262.4H245.5" stroke="#e8262b" stroke-width="0.95" fill="none"/>
<path d="M109.0,272.9V275.3M121.0,278.8V281.2M125.1,278.8V281.2M127.2,278.8V281.2M132.3,278.8V281.2M146.7,283.1V285.5M154.9,283.1V285.5M167.2,283.1V285.5M175.4,283.1V285.5M191.8,283.1V285.5M198.0,283.1V285.5M213.4,283.1V285.5M219.5,283.1V285.5" stroke="#2b3990" stroke-width="0.7" fill="none"/>
<path d="M42.3,232.8V235.2M47.8,232.8V235.2M56.6,234.7V237.1M67.7,239.0V241.4M78.0,241.1V243.5M80.4,241.1V243.5M94.7,244.3V246.7M101.0,244.3V246.7M109.0,244.3V246.7M117.8,247.8V250.2M124.1,247.8V250.2M132.3,247.8V250.2M143.6,247.8V250.2M147.7,247.8V250.2M149.8,247.8V250.2M154.9,247.8V250.2M170.3,247.8V250.2M194.9,261.2V263.6M203.1,261.2V263.6M219.5,261.2V263.6" stroke="#e8262b" stroke-width="0.7" fill="none"/>
<path d="M15.4,227.7V333.3H245.5" stroke="#444" stroke-width="0.8" fill="none"/>
<text x="13.4" y="233.6" font-family='"Liberation Sans", sans-serif' font-size="3.3" font-weight="bold" fill="#222" stroke="#222" stroke-width="0.2" text-anchor="end">1.00</text>
<text x="13.4" y="257.6" font-family='"Liberation Sans", sans-serif' font-size="3.3" font-weight="bold" fill="#222" stroke="#222" stroke-width="0.2" text-anchor="end">0.75</text>
<text x="13.4" y="281.6" font-family='"Liberation Sans", sans-serif' font-size="3.3" font-weight="bold" fill="#222" stroke="#222" stroke-width="0.2" text-anchor="end">0.50</text>
<text x="13.4" y="305.6" font-family='"Liberation Sans", sans-serif' font-size="3.3" font-weight="bold" fill="#222" stroke="#222" stroke-width="0.2" text-anchor="end">0.25</text>
<text x="13.4" y="329.6" font-family='"Liberation Sans", sans-serif' font-size="3.3" font-weight="bold" fill="#222" stroke="#222" stroke-width="0.2" text-anchor="end">0.00</text>
<text x="26.2" y="338.1" font-family='"Liberation Sans", sans-serif' font-size="3.3" font-weight="bold" fill="#222" stroke="#222" stroke-width="0.2" text-anchor="middle">0</text>
<text x="26.2" y="381.8" font-family='"Liberation Sans", sans-serif' font-size="3.3" font-weight="bold" fill="#222" stroke="#222" stroke-width="0.2" text-anchor="middle">0</text>
<text x="26.2" y="360.8" font-family='"Liberation Sans", sans-serif' font-size="4.3" fill="#2b3990" stroke="#2b3990" stroke-width="0.2" text-anchor="middle">43</text>
<text x="26.2" y="371.6" font-family='"Liberation Sans", sans-serif' font-size="4.3" fill="#e8262b" stroke="#e8262b" stroke-width="0.2" text-anchor="middle">42</text>
<text x="47.1" y="338.1" font-family='"Liberation Sans", sans-serif' font-size="3.3" font-weight="bold" fill="#222" stroke="#222" stroke-width="0.2" text-anchor="middle">1</text>
<text x="47.1" y="381.8" font-family='"Liberation Sans", sans-serif' font-size="3.3" font-weight="bold" fill="#222" stroke="#222" stroke-width="0.2" text-anchor="middle">1</text>
<text x="47.1" y="360.8" font-family='"Liberation Sans", sans-serif' font-size="4.3" fill="#2b3990" stroke="#2b3990" stroke-width="0.2" text-anchor="middle">38</text>
<text x="47.1" y="371.6" font-family='"Liberation Sans", sans-serif' font-size="4.3" fill="#e8262b" stroke="#e8262b" stroke-width="0.2" text-anchor="middle">40</text>
<text x="68.0" y="338.1" font-family='"Liberation Sans", sans-serif' font-size="3.3" font-weight="bold" fill="#222" stroke="#222" stroke-width="0.2" text-anchor="middle">2</text>
<text x="68.0" y="381.8" font-family='"Liberation Sans", sans-serif' font-size="3.3" font-weight="bold" fill="#222" stroke="#222" stroke-width="0.2" text-anchor="middle">2</text>
<text x="68.0" y="360.8" font-family='"Liberation Sans", sans-serif' font-size="4.3" fill="#2b3990" stroke="#2b3990" stroke-width="0.2" text-anchor="middle">25</text>
<text x="68.0" y="371.6" font-family='"Liberation Sans", sans-serif' font-size="4.3" fill="#e8262b" stroke="#e8262b" stroke-width="0.2" text-anchor="middle">30</text>
<text x="88.8" y="338.1" font-family='"Liberation Sans", sans-serif' font-size="3.3" font-weight="bold" fill="#222" stroke="#222" stroke-width="0.2" text-anchor="middle">3</text>
<text x="88.8" y="381.8" font-family='"Liberation Sans", sans-serif' font-size="3.3" font-weight="bold" fill="#222" stroke="#222" stroke-width="0.2" text-anchor="middle">3</text>
<text x="88.8" y="360.8" font-family='"Liberation Sans", sans-serif' font-size="4.3" fill="#2b3990" stroke="#2b3990" stroke-width="0.2" text-anchor="middle">19</text>
<text x="88.8" y="371.6" font-family='"Liberation Sans", sans-serif' font-size="4.3" fill="#e8262b" stroke="#e8262b" stroke-width="0.2" text-anchor="middle">28</text>
<text x="109.7" y="338.1" font-family='"Liberation Sans", sans-serif' font-size="3.3" font-weight="bold" fill="#222" stroke="#222" stroke-width="0.2" text-anchor="middle">4</text>
<text x="109.7" y="381.8" font-family='"Liberation Sans", sans-serif' font-size="3.3" font-weight="bold" fill="#222" stroke="#222" stroke-width="0.2" text-anchor="middle">4</text>
<text x="109.7" y="360.8" font-family='"Liberation Sans", sans-serif' font-size="4.3" fill="#2b3990" stroke="#2b3990" stroke-width="0.2" text-anchor="middle">18</text>
<text x="109.7" y="371.6" font-family='"Liberation Sans", sans-serif' font-size="4.3" fill="#e8262b" stroke="#e8262b" stroke-width="0.2" text-anchor="middle">24</text>
<text x="130.6" y="338.1" font-family='"Liberation Sans", sans-serif' font-size="3.3" font-weight="bold" fill="#222" stroke="#222" stroke-width="0.2" text-anchor="middle">5</text>
<text x="130.6" y="381.8" font-family='"Liberation Sans", sans-serif' font-size="3.3" font-weight="bold" fill="#222" stroke="#222" stroke-width="0.2" text-anchor="middle">5</text>
<text x="130.6" y="360.8" font-family='"Liberation Sans", sans-serif' font-size="4.3" fill="#2b3990" stroke="#2b3990" stroke-width="0.2" text-anchor="middle">14</text>
<text x="130.6" y="371.6" font-family='"Liberation Sans", sans-serif' font-size="4.3" fill="#e8262b" stroke="#e8262b" stroke-width="0.2" text-anchor="middle">14</text>
<text x="151.5" y="338.1" font-family='"Liberation Sans", sans-serif' font-size="3.3" font-weight="bold" fill="#222" stroke="#222" stroke-width="0.2" text-anchor="middle">6</text>
<text x="151.5" y="381.8" font-family='"Liberation Sans", sans-serif' font-size="3.3" font-weight="bold" fill="#222" stroke="#222" stroke-width="0.2" text-anchor="middle">6</text>
<text x="151.5" y="360.8" font-family='"Liberation Sans", sans-serif' font-size="4.3" fill="#2b3990" stroke="#2b3990" stroke-width="0.2" text-anchor="middle">9</text>
<text x="151.5" y="371.6" font-family='"Liberation Sans", sans-serif' font-size="4.3" fill="#e8262b" stroke="#e8262b" stroke-width="0.2" text-anchor="middle">9</text>
<text x="172.4" y="338.1" font-family='"Liberation Sans", sans-serif' font-size="3.3" font-weight="bold" fill="#222" stroke="#222" stroke-width="0.2" text-anchor="middle">7</text>
<text x="172.4" y="381.8" font-family='"Liberation Sans", sans-serif' font-size="3.3" font-weight="bold" fill="#222" stroke="#222" stroke-width="0.2" text-anchor="middle">7</text>
<text x="172.4" y="360.8" font-family='"Liberation Sans", sans-serif' font-size="4.3" fill="#2b3990" stroke="#2b3990" stroke-width="0.2" text-anchor="middle">7</text>
<text x="172.4" y="371.6" font-family='"Liberation Sans", sans-serif' font-size="4.3" fill="#e8262b" stroke="#e8262b" stroke-width="0.2" text-anchor="middle">6</text>
<text x="193.2" y="338.1" font-family='"Liberation Sans", sans-serif' font-size="3.3" font-weight="bold" fill="#222" stroke="#222" stroke-width="0.2" text-anchor="middle">8</text>
<text x="193.2" y="381.8" font-family='"Liberation Sans", sans-serif' font-size="3.3" font-weight="bold" fill="#222" stroke="#222" stroke-width="0.2" text-anchor="middle">8</text>
<text x="193.2" y="360.8" font-family='"Liberation Sans", sans-serif' font-size="4.3" fill="#2b3990" stroke="#2b3990" stroke-width="0.2" text-anchor="middle">5</text>
<text x="193.2" y="371.6" font-family='"Liberation Sans", sans-serif' font-size="4.3" fill="#e8262b" stroke="#e8262b" stroke-width="0.2" text-anchor="middle">5</text>
<text x="214.1" y="338.1" font-family='"Liberation Sans", sans-serif' font-size="3.3" font-weight="bold" fill="#222" stroke="#222" stroke-width="0.2" text-anchor="middle">9</text>
<text x="214.1" y="381.8" font-family='"Liberation Sans", sans-serif' font-size="3.3" font-weight="bold" fill="#222" stroke="#222" stroke-width="0.2" text-anchor="middle">9</text>
<text x="214.1" y="360.8" font-family='"Liberation Sans", sans-serif' font-size="4.3" fill="#2b3990" stroke="#2b3990" stroke-width="0.2" text-anchor="middle">3</text>
<text x="214.1" y="371.6" font-family='"Liberation Sans", sans-serif' font-size="4.3" fill="#e8262b" stroke="#e8262b" stroke-width="0.2" text-anchor="middle">3</text>
<text x="235.0" y="338.1" font-family='"Liberation Sans", sans-serif' font-size="3.3" font-weight="bold" fill="#222" stroke="#222" stroke-width="0.2" text-anchor="middle">10</text>
<text x="235.0" y="381.8" font-family='"Liberation Sans", sans-serif' font-size="3.3" font-weight="bold" fill="#222" stroke="#222" stroke-width="0.2" text-anchor="middle">10</text>
<text x="235.0" y="360.8" font-family='"Liberation Sans", sans-serif' font-size="4.3" fill="#2b3990" stroke="#2b3990" stroke-width="0.2" text-anchor="middle">2</text>
<text x="235.0" y="371.6" font-family='"Liberation Sans", sans-serif' font-size="4.3" fill="#e8262b" stroke="#e8262b" stroke-width="0.2" text-anchor="middle">2</text>
<path d="M13.9,232.4H15.4M13.9,256.4H15.4M13.9,280.4H15.4M13.9,304.4H15.4M13.9,328.4H15.4M26.2,333V334.5M26.2,377V378.5M47.1,333V334.5M47.1,377V378.5M68.0,333V334.5M68.0,377V378.5M88.8,333V334.5M88.8,377V378.5M109.7,333V334.5M109.7,377V378.5M130.6,333V334.5M130.6,377V378.5M151.5,333V334.5M151.5,377V378.5M172.4,333V334.5M172.4,377V378.5M193.2,333V334.5M193.2,377V378.5M214.1,333V334.5M214.1,377V378.5M235.0,333V334.5M235.0,377V378.5" stroke="#444" stroke-width="0.6" fill="none"/>
<text transform="translate(4.9,280) rotate(-90)" font-family='"Liberation Sans", sans-serif' font-size="4.1" fill="#222" stroke="#222" stroke-width="0.15" text-anchor="middle">Survival probability (%)</text>
<text x="130.6" y="342.1" font-family='"Liberation Sans", sans-serif' font-size="4.1" font-weight="bold" fill="#222" stroke="#222" stroke-width="0.12" text-anchor="middle">Time (Years)</text>
<text x="130.6" y="385.6" font-family='"Liberation Sans", sans-serif' font-size="4.1" font-weight="bold" fill="#222" stroke="#222" stroke-width="0.12" text-anchor="middle">Time (Years)</text>
<text x="18.0" y="321.8" font-family='"Liberation Serif", serif' font-size="15.4" fill="#111"><tspan font-style="italic">p</tspan>=0.005</text>
<text x="15.4" y="350.1" font-family='"Liberation Sans", sans-serif' font-size="4.9" font-weight="bold" fill="#222" textLength="29.5" lengthAdjust="spacingAndGlyphs">Number at risk</text>
<path d="M15.4,352.2V377.2H245.5" stroke="#444" stroke-width="0.8" fill="none"/>
<path d="M9.9,357.4H15.9" stroke="#2b3990" stroke-width="1.3"/>
<path d="M9.9,369.2H15.9" stroke="#e8262b" stroke-width="1.3"/>
<text transform="translate(6.4,365) rotate(-90)" font-family='"Liberation Sans", sans-serif' font-size="4.6" font-weight="bold" fill="#333" text-anchor="middle">OS</text>
<text x="95.2" y="222.6" font-family='"Liberation Sans", sans-serif' font-size="5.2" font-weight="bold" fill="#222">OS</text>
<rect x="106.0" y="216" width="8.5" height="8.7" fill="#1f2f98" fill-opacity="0.28"/>
<path d="M106.5,220.4H114.0M110.2,218.6V222" stroke="#2b3990" stroke-width="0.9"/>
<text x="117.2" y="222.6" font-family='"Liberation Sans", sans-serif' font-size="5.3" font-weight="bold" fill="#222" textLength="24.8" lengthAdjust="spacingAndGlyphs">Low group</text>
<rect x="143.8" y="216" width="8.5" height="8.7" fill="#ff1a1a" fill-opacity="0.33"/>
<path d="M144.3,220.4H151.8M148.1,218.6V222" stroke="#e8262b" stroke-width="0.9"/>
<text x="155.0" y="222.6" font-family='"Liberation Sans", sans-serif' font-size="5.3" font-weight="bold" fill="#222" textLength="26.2" lengthAdjust="spacingAndGlyphs">High group</text>
<text x="251.3" y="223.1" font-family='"Liberation Serif", serif' font-size="20.5" fill="#111">E</text>
<path d="M295.1,232.3 L302.3,232.3 L302.3,235.0 L314.2,235.0 L314.2,240.0 L322.9,240.0 L322.9,244.7 L329.3,244.7 L329.3,250.3 L337.2,250.3 L337.2,251.8 L342.8,251.8 L342.8,255.8 L371.4,255.8 L371.4,257.4 L394.0,257.4 L394.0,258.0 L449.7,258.0 L449.7,262.0 L504.6,262.0 L504.6,298.5 L449.7,298.5 L449.7,289.3 L375.4,289.3 L375.4,287.0 L370.0,287.0 L370.0,285.2 L346.0,285.2 L346.0,282.8 L338.8,282.8 L338.8,279.7 L329.3,279.7 L329.3,273.3 L324.5,273.3 L324.5,269.3 L321.3,269.3 L321.3,265.4 L318.2,265.4 L318.2,261.4 L314.2,261.4 L314.2,259.0 L311.8,259.0 L311.8,255.0 L308.6,255.0 L308.6,251.8 L305.4,251.8 L305.4,248.7 L304.0,248.7 L304.0,241.0 L302.3,241.0 L302.3,236.0 L295.1,236.0Z" fill="#1f2f98" fill-opacity="0.28"/>
<path d="M289.5,232.3 L334.0,232.3 L334.0,234.0 L354.7,234.0 L354.7,236.0 L372.2,236.0 L372.2,237.9 L378.6,237.9 L378.6,239.9 L394.0,239.9 L394.0,242.3 L504.6,242.3 L504.6,276.5 L394.0,276.5 L394.0,268.5 L371.4,268.5 L371.4,259.0 L342.8,259.0 L342.8,252.5 L337.2,252.5 L337.2,251.8 L329.3,251.8 L329.3,245.0 L327.7,245.0 L327.7,247.1 L322.9,247.1 L322.9,240.5 L320.5,240.5 L320.5,243.1 L314.2,243.1 L314.2,238.8 L289.5,238.8Z" fill="#ff1a1a" fill-opacity="0.33"/>
<path d="M285.5,280.4H449.7M449.7,283.2V333" stroke="#333" stroke-width="0.7" stroke-dasharray="1.6,1.3" fill="none"/>
<path d="M285.6,232.3H295.1V234.0H300.7V236.0H302.3V241.5H305.4V243.1H309.4V247.9H314.2V251.0H317.4V253.4H320.5V257.4H324.5V261.4H328.5V266.2H338.0V269.3H346.0V272.2H375.4V275.4H449.7V283.2H504.6" stroke="#2b3990" stroke-width="0.95" fill="none"/>
<path d="M285.6,232.3H289.5V234.0H314.2V236.0H319.0V237.2H322.1V239.1H326.1V240.3H329.3V242.3H334.8V244.7H342.8V248.3H371.4V251.0H377.0V251.8H378.6V255.4H394.0V261.2H504.6" stroke="#e8262b" stroke-width="0.95" fill="none"/>
<path d="M300.7,234.8V237.2M316.6,249.8V252.2M319.7,252.2V254.6M322.9,256.2V258.6M338.0,268.1V270.5M369.0,271.0V273.4M377.8,274.2V276.6M384.9,274.2V276.6" stroke="#2b3990" stroke-width="0.7" fill="none"/>
<path d="M312.6,232.8V235.2M314.2,234.8V237.2M319.7,236.0V238.4M323.7,237.9V240.3M341.2,243.5V245.9M343.6,247.1V249.5M354.7,247.1V249.5M361.1,247.1V249.5M368.2,247.1V249.5M373.8,249.8V252.2M376.2,249.8V252.2M383.3,254.2V256.6" stroke="#e8262b" stroke-width="0.7" fill="none"/>
<path d="M275.2,227.7V333.3H504.6" stroke="#444" stroke-width="0.8" fill="none"/>
<text x="273.2" y="233.6" font-family='"Liberation Sans", sans-serif' font-size="3.3" font-weight="bold" fill="#222" stroke="#222" stroke-width="0.2" text-anchor="end">1.00</text>
<text x="273.2" y="257.6" font-family='"Liberation Sans", sans-serif' font-size="3.3" font-weight="bold" fill="#222" stroke="#222" stroke-width="0.2" text-anchor="end">0.75</text>
<text x="273.2" y="281.6" font-family='"Liberation Sans", sans-serif' font-size="3.3" font-weight="bold" fill="#222" stroke="#222" stroke-width="0.2" text-anchor="end">0.50</text>
<text x="273.2" y="305.6" font-family='"Liberation Sans", sans-serif' font-size="3.3" font-weight="bold" fill="#222" stroke="#222" stroke-width="0.2" text-anchor="end">0.25</text>
<text x="273.2" y="329.6" font-family='"Liberation Sans", sans-serif' font-size="3.3" font-weight="bold" fill="#222" stroke="#222" stroke-width="0.2" text-anchor="end">0.00</text>
<text x="285.5" y="338.1" font-family='"Liberation Sans", sans-serif' font-size="3.3" font-weight="bold" fill="#222" stroke="#222" stroke-width="0.2" text-anchor="middle">0</text>
<text x="285.5" y="381.8" font-family='"Liberation Sans", sans-serif' font-size="3.3" font-weight="bold" fill="#222" stroke="#222" stroke-width="0.2" text-anchor="middle">0</text>
<text x="285.5" y="360.8" font-family='"Liberation Sans", sans-serif' font-size="4.3" fill="#2b3990" stroke="#2b3990" stroke-width="0.2" text-anchor="middle">43</text>
<text x="285.5" y="371.6" font-family='"Liberation Sans", sans-serif' font-size="4.3" fill="#e8262b" stroke="#e8262b" stroke-width="0.2" text-anchor="middle">42</text>
<text x="306.4" y="338.1" font-family='"Liberation Sans", sans-serif' font-size="3.3" font-weight="bold" fill="#222" stroke="#222" stroke-width="0.2" text-anchor="middle">1</text>
<text x="306.4" y="381.8" font-family='"Liberation Sans", sans-serif' font-size="3.3" font-weight="bold" fill="#222" stroke="#222" stroke-width="0.2" text-anchor="middle">1</text>
<text x="306.4" y="360.8" font-family='"Liberation Sans", sans-serif' font-size="4.3" fill="#2b3990" stroke="#2b3990" stroke-width="0.2" text-anchor="middle">37</text>
<text x="306.4" y="371.6" font-family='"Liberation Sans", sans-serif' font-size="4.3" fill="#e8262b" stroke="#e8262b" stroke-width="0.2" text-anchor="middle">41</text>
<text x="327.2" y="338.1" font-family='"Liberation Sans", sans-serif' font-size="3.3" font-weight="bold" fill="#222" stroke="#222" stroke-width="0.2" text-anchor="middle">2</text>
<text x="327.2" y="381.8" font-family='"Liberation Sans", sans-serif' font-size="3.3" font-weight="bold" fill="#222" stroke="#222" stroke-width="0.2" text-anchor="middle">2</text>
<text x="327.2" y="360.8" font-family='"Liberation Sans", sans-serif' font-size="4.3" fill="#2b3990" stroke="#2b3990" stroke-width="0.2" text-anchor="middle">24</text>
<text x="327.2" y="371.6" font-family='"Liberation Sans", sans-serif' font-size="4.3" fill="#e8262b" stroke="#e8262b" stroke-width="0.2" text-anchor="middle">31</text>
<text x="348.1" y="338.1" font-family='"Liberation Sans", sans-serif' font-size="3.3" font-weight="bold" fill="#222" stroke="#222" stroke-width="0.2" text-anchor="middle">3</text>
<text x="348.1" y="381.8" font-family='"Liberation Sans", sans-serif' font-size="3.3" font-weight="bold" fill="#222" stroke="#222" stroke-width="0.2" text-anchor="middle">3</text>
<text x="348.1" y="360.8" font-family='"Liberation Sans", sans-serif' font-size="4.3" fill="#2b3990" stroke="#2b3990" stroke-width="0.2" text-anchor="middle">19</text>
<text x="348.1" y="371.6" font-family='"Liberation Sans", sans-serif' font-size="4.3" fill="#e8262b" stroke="#e8262b" stroke-width="0.2" text-anchor="middle">28</text>
<text x="368.9" y="338.1" font-family='"Liberation Sans", sans-serif' font-size="3.3" font-weight="bold" fill="#222" stroke="#222" stroke-width="0.2" text-anchor="middle">4</text>
<text x="368.9" y="381.8" font-family='"Liberation Sans", sans-serif' font-size="3.3" font-weight="bold" fill="#222" stroke="#222" stroke-width="0.2" text-anchor="middle">4</text>
<text x="368.9" y="360.8" font-family='"Liberation Sans", sans-serif' font-size="4.3" fill="#2b3990" stroke="#2b3990" stroke-width="0.2" text-anchor="middle">19</text>
<text x="368.9" y="371.6" font-family='"Liberation Sans", sans-serif' font-size="4.3" fill="#e8262b" stroke="#e8262b" stroke-width="0.2" text-anchor="middle">23</text>
<text x="389.8" y="338.1" font-family='"Liberation Sans", sans-serif' font-size="3.3" font-weight="bold" fill="#222" stroke="#222" stroke-width="0.2" text-anchor="middle">5</text>
<text x="389.8" y="381.8" font-family='"Liberation Sans", sans-serif' font-size="3.3" font-weight="bold" fill="#222" stroke="#222" stroke-width="0.2" text-anchor="middle">5</text>
<text x="389.8" y="360.8" font-family='"Liberation Sans", sans-serif' font-size="4.3" fill="#2b3990" stroke="#2b3990" stroke-width="0.2" text-anchor="middle">13</text>
<text x="389.8" y="371.6" font-family='"Liberation Sans", sans-serif' font-size="4.3" fill="#e8262b" stroke="#e8262b" stroke-width="0.2" text-anchor="middle">15</text>
<text x="410.6" y="338.1" font-family='"Liberation Sans", sans-serif' font-size="3.3" font-weight="bold" fill="#222" stroke="#222" stroke-width="0.2" text-anchor="middle">6</text>
<text x="410.6" y="381.8" font-family='"Liberation Sans", sans-serif' font-size="3.3" font-weight="bold" fill="#222" stroke="#222" stroke-width="0.2" text-anchor="middle">6</text>
<text x="410.6" y="360.8" font-family='"Liberation Sans", sans-serif' font-size="4.3" fill="#2b3990" stroke="#2b3990" stroke-width="0.2" text-anchor="middle">11</text>
<text x="410.6" y="371.6" font-family='"Liberation Sans", sans-serif' font-size="4.3" fill="#e8262b" stroke="#e8262b" stroke-width="0.2" text-anchor="middle">7</text>
<text x="431.5" y="338.1" font-family='"Liberation Sans", sans-serif' font-size="3.3" font-weight="bold" fill="#222" stroke="#222" stroke-width="0.2" text-anchor="middle">7</text>
<text x="431.5" y="381.8" font-family='"Liberation Sans", sans-serif' font-size="3.3" font-weight="bold" fill="#222" stroke="#222" stroke-width="0.2" text-anchor="middle">7</text>
<text x="431.5" y="360.8" font-family='"Liberation Sans", sans-serif' font-size="4.3" fill="#2b3990" stroke="#2b3990" stroke-width="0.2" text-anchor="middle">8</text>
<text x="431.5" y="371.6" font-family='"Liberation Sans", sans-serif' font-size="4.3" fill="#e8262b" stroke="#e8262b" stroke-width="0.2" text-anchor="middle">5</text>
<text x="452.3" y="338.1" font-family='"Liberation Sans", sans-serif' font-size="3.3" font-weight="bold" fill="#222" stroke="#222" stroke-width="0.2" text-anchor="middle">8</text>
<text x="452.3" y="381.8" font-family='"Liberation Sans", sans-serif' font-size="3.3" font-weight="bold" fill="#222" stroke="#222" stroke-width="0.2" text-anchor="middle">8</text>
<text x="452.3" y="360.8" font-family='"Liberation Sans", sans-serif' font-size="4.3" fill="#2b3990" stroke="#2b3990" stroke-width="0.2" text-anchor="middle">6</text>
<text x="452.3" y="371.6" font-family='"Liberation Sans", sans-serif' font-size="4.3" fill="#e8262b" stroke="#e8262b" stroke-width="0.2" text-anchor="middle">4</text>
<text x="473.1" y="338.1" font-family='"Liberation Sans", sans-serif' font-size="3.3" font-weight="bold" fill="#222" stroke="#222" stroke-width="0.2" text-anchor="middle">9</text>
<text x="473.1" y="381.8" font-family='"Liberation Sans", sans-serif' font-size="3.3" font-weight="bold" fill="#222" stroke="#222" stroke-width="0.2" text-anchor="middle">9</text>
<text x="473.1" y="360.8" font-family='"Liberation Sans", sans-serif' font-size="4.3" fill="#2b3990" stroke="#2b3990" stroke-width="0.2" text-anchor="middle">3</text>
<text x="473.1" y="371.6" font-family='"Liberation Sans", sans-serif' font-size="4.3" fill="#e8262b" stroke="#e8262b" stroke-width="0.2" text-anchor="middle">3</text>
<text x="494.0" y="338.1" font-family='"Liberation Sans", sans-serif' font-size="3.3" font-weight="bold" fill="#222" stroke="#222" stroke-width="0.2" text-anchor="middle">10</text>
<text x="494.0" y="381.8" font-family='"Liberation Sans", sans-serif' font-size="3.3" font-weight="bold" fill="#222" stroke="#222" stroke-width="0.2" text-anchor="middle">10</text>
<text x="494.0" y="360.8" font-family='"Liberation Sans", sans-serif' font-size="4.3" fill="#2b3990" stroke="#2b3990" stroke-width="0.2" text-anchor="middle">3</text>
<text x="494.0" y="371.6" font-family='"Liberation Sans", sans-serif' font-size="4.3" fill="#e8262b" stroke="#e8262b" stroke-width="0.2" text-anchor="middle">1</text>
<path d="M273.7,232.4H275.2M273.7,256.4H275.2M273.7,280.4H275.2M273.7,304.4H275.2M273.7,328.4H275.2M285.5,333V334.5M285.5,377V378.5M306.4,333V334.5M306.4,377V378.5M327.2,333V334.5M327.2,377V378.5M348.1,333V334.5M348.1,377V378.5M368.9,333V334.5M368.9,377V378.5M389.8,333V334.5M389.8,377V378.5M410.6,333V334.5M410.6,377V378.5M431.5,333V334.5M431.5,377V378.5M452.3,333V334.5M452.3,377V378.5M473.1,333V334.5M473.1,377V378.5M494.0,333V334.5M494.0,377V378.5" stroke="#444" stroke-width="0.6" fill="none"/>
<text transform="translate(264.7,280) rotate(-90)" font-family='"Liberation Sans", sans-serif' font-size="4.1" fill="#222" stroke="#222" stroke-width="0.15" text-anchor="middle">Survival probability (%)</text>
<text x="389.8" y="342.1" font-family='"Liberation Sans", sans-serif' font-size="4.1" font-weight="bold" fill="#222" stroke="#222" stroke-width="0.12" text-anchor="middle">Time (Years)</text>
<text x="389.8" y="385.6" font-family='"Liberation Sans", sans-serif' font-size="4.1" font-weight="bold" fill="#222" stroke="#222" stroke-width="0.12" text-anchor="middle">Time (Years)</text>
<text x="278.3" y="321.8" font-family='"Liberation Serif", serif' font-size="15.4" fill="#111"><tspan font-style="italic">p</tspan>=0.03</text>
<text x="275.2" y="350.1" font-family='"Liberation Sans", sans-serif' font-size="4.9" font-weight="bold" fill="#222" textLength="29.5" lengthAdjust="spacingAndGlyphs">Number at risk</text>
<path d="M275.2,352.2V377.2H504.6" stroke="#444" stroke-width="0.8" fill="none"/>
<path d="M269.7,357.4H275.7" stroke="#2b3990" stroke-width="1.3"/>
<path d="M269.7,369.2H275.7" stroke="#e8262b" stroke-width="1.3"/>
<text transform="translate(266.2,365) rotate(-90)" font-family='"Liberation Sans", sans-serif' font-size="4.6" font-weight="bold" fill="#333" text-anchor="middle">OS</text>
<text x="343.0" y="222.6" font-family='"Liberation Sans", sans-serif' font-size="5.2" font-weight="bold" fill="#222">OS</text>
<rect x="353.4" y="216" width="8.5" height="8.7" fill="#1f2f98" fill-opacity="0.28"/>
<path d="M353.9,220.4H361.4M357.6,218.6V222" stroke="#2b3990" stroke-width="0.9"/>
<text x="364.7" y="222.6" font-family='"Liberation Sans", sans-serif' font-size="5.3" font-weight="bold" fill="#222" textLength="24.8" lengthAdjust="spacingAndGlyphs">Low group</text>
<rect x="391.6" y="216" width="8.5" height="8.7" fill="#ff1a1a" fill-opacity="0.33"/>
<path d="M392.1,220.4H399.6M395.9,218.6V222" stroke="#e8262b" stroke-width="0.9"/>
<text x="402.6" y="222.6" font-family='"Liberation Sans", sans-serif' font-size="5.3" font-weight="bold" fill="#222" textLength="26.2" lengthAdjust="spacingAndGlyphs">High group</text>
<text x="510.5" y="228.5" font-family='"Liberation Serif", serif' font-size="20.5" fill="#111">F</text>
<path d="M564.3,232.2 L744.0,232.2 L744.0,274.9 L593.6,274.9 L593.6,253.6 L564.3,253.6Z" fill="#1f2f98" fill-opacity="0.28"/>
<path d="M553.5,232.2 L578.9,232.2 L578.9,239.5 L586.2,239.5 L586.2,244.4 L592.3,244.4 L592.3,252.0 L593.2,252.0 L593.2,259.8 L598.2,259.8 L598.2,267.4 L737.0,267.4 L737.0,323.5 L597.7,323.5 L597.7,318.4 L586.9,318.4 L586.9,297.8 L578.8,297.8 L578.8,288.8 L565.7,288.8 L565.7,268.9 L559.3,268.9 L559.3,255.8 L553.5,255.8Z" fill="#ff1a1a" fill-opacity="0.33"/>
<path d="M549.2,280.4H586.5M586.5,280.2V333" stroke="#333" stroke-width="0.7" stroke-dasharray="1.6,1.3" fill="none"/>
<path d="M549.2,232.2H564.3V240.1H593.6V253.0H744.0" stroke="#2b3990" stroke-width="0.95" fill="none"/>
<path d="M549.2,232.2H553.5V241.6H559.3V249.7H565.0V266.9H578.5V276.3H586.9V293.0H592.3V302.3H597.7V311.3H737.0" stroke="#e8262b" stroke-width="0.95" fill="none"/>
<path d="M589.7,238.9V241.3M607.2,251.8V254.2M624.7,251.8V254.2M655.4,251.8V254.2M672.3,251.8V254.2M713.9,251.8V254.2" stroke="#2b3990" stroke-width="0.7" fill="none"/>
<path d="M638.1,310.1V312.5M736.5,310.1V312.5" stroke="#e8262b" stroke-width="0.7" fill="none"/>
<path d="M538.5,227.7V333.3H744.0" stroke="#444" stroke-width="0.8" fill="none"/>
<text x="536.5" y="233.6" font-family='"Liberation Sans", sans-serif' font-size="3.3" font-weight="bold" fill="#222" stroke="#222" stroke-width="0.2" text-anchor="end">1.00</text>
<text x="536.5" y="257.6" font-family='"Liberation Sans", sans-serif' font-size="3.3" font-weight="bold" fill="#222" stroke="#222" stroke-width="0.2" text-anchor="end">0.75</text>
<text x="536.5" y="281.6" font-family='"Liberation Sans", sans-serif' font-size="3.3" font-weight="bold" fill="#222" stroke="#222" stroke-width="0.2" text-anchor="end">0.50</text>
<text x="536.5" y="305.6" font-family='"Liberation Sans", sans-serif' font-size="3.3" font-weight="bold" fill="#222" stroke="#222" stroke-width="0.2" text-anchor="end">0.25</text>
<text x="536.5" y="329.6" font-family='"Liberation Sans", sans-serif' font-size="3.3" font-weight="bold" fill="#222" stroke="#222" stroke-width="0.2" text-anchor="end">0.00</text>
<text x="549.2" y="338.1" font-family='"Liberation Sans", sans-serif' font-size="3.3" font-weight="bold" fill="#222" stroke="#222" stroke-width="0.2" text-anchor="middle">0</text>
<text x="549.2" y="381.8" font-family='"Liberation Sans", sans-serif' font-size="3.3" font-weight="bold" fill="#222" stroke="#222" stroke-width="0.2" text-anchor="middle">0</text>
<text x="549.2" y="360.8" font-family='"Liberation Sans", sans-serif' font-size="4.3" fill="#2b3990" stroke="#2b3990" stroke-width="0.2" text-anchor="middle">12</text>
<text x="549.2" y="371.6" font-family='"Liberation Sans", sans-serif' font-size="4.3" fill="#e8262b" stroke="#e8262b" stroke-width="0.2" text-anchor="middle">11</text>
<text x="570.1" y="338.1" font-family='"Liberation Sans", sans-serif' font-size="3.3" font-weight="bold" fill="#222" stroke="#222" stroke-width="0.2" text-anchor="middle">1</text>
<text x="570.1" y="381.8" font-family='"Liberation Sans", sans-serif' font-size="3.3" font-weight="bold" fill="#222" stroke="#222" stroke-width="0.2" text-anchor="middle">1</text>
<text x="570.1" y="360.8" font-family='"Liberation Sans", sans-serif' font-size="4.3" fill="#2b3990" stroke="#2b3990" stroke-width="0.2" text-anchor="middle">10</text>
<text x="570.1" y="371.6" font-family='"Liberation Sans", sans-serif' font-size="4.3" fill="#e8262b" stroke="#e8262b" stroke-width="0.2" text-anchor="middle">7</text>
<text x="591.0" y="338.1" font-family='"Liberation Sans", sans-serif' font-size="3.3" font-weight="bold" fill="#222" stroke="#222" stroke-width="0.2" text-anchor="middle">2</text>
<text x="591.0" y="381.8" font-family='"Liberation Sans", sans-serif' font-size="3.3" font-weight="bold" fill="#222" stroke="#222" stroke-width="0.2" text-anchor="middle">2</text>
<text x="591.0" y="360.8" font-family='"Liberation Sans", sans-serif' font-size="4.3" fill="#2b3990" stroke="#2b3990" stroke-width="0.2" text-anchor="middle">7</text>
<text x="591.0" y="371.6" font-family='"Liberation Sans", sans-serif' font-size="4.3" fill="#e8262b" stroke="#e8262b" stroke-width="0.2" text-anchor="middle">4</text>
<text x="611.8" y="338.1" font-family='"Liberation Sans", sans-serif' font-size="3.3" font-weight="bold" fill="#222" stroke="#222" stroke-width="0.2" text-anchor="middle">3</text>
<text x="611.8" y="381.8" font-family='"Liberation Sans", sans-serif' font-size="3.3" font-weight="bold" fill="#222" stroke="#222" stroke-width="0.2" text-anchor="middle">3</text>
<text x="611.8" y="360.8" font-family='"Liberation Sans", sans-serif' font-size="4.3" fill="#2b3990" stroke="#2b3990" stroke-width="0.2" text-anchor="middle">5</text>
<text x="611.8" y="371.6" font-family='"Liberation Sans", sans-serif' font-size="4.3" fill="#e8262b" stroke="#e8262b" stroke-width="0.2" text-anchor="middle">2</text>
<text x="632.7" y="338.1" font-family='"Liberation Sans", sans-serif' font-size="3.3" font-weight="bold" fill="#222" stroke="#222" stroke-width="0.2" text-anchor="middle">4</text>
<text x="632.7" y="381.8" font-family='"Liberation Sans", sans-serif' font-size="3.3" font-weight="bold" fill="#222" stroke="#222" stroke-width="0.2" text-anchor="middle">4</text>
<text x="632.7" y="360.8" font-family='"Liberation Sans", sans-serif' font-size="4.3" fill="#2b3990" stroke="#2b3990" stroke-width="0.2" text-anchor="middle">4</text>
<text x="632.7" y="371.6" font-family='"Liberation Sans", sans-serif' font-size="4.3" fill="#e8262b" stroke="#e8262b" stroke-width="0.2" text-anchor="middle">2</text>
<text x="653.6" y="338.1" font-family='"Liberation Sans", sans-serif' font-size="3.3" font-weight="bold" fill="#222" stroke="#222" stroke-width="0.2" text-anchor="middle">5</text>
<text x="653.6" y="381.8" font-family='"Liberation Sans", sans-serif' font-size="3.3" font-weight="bold" fill="#222" stroke="#222" stroke-width="0.2" text-anchor="middle">5</text>
<text x="653.6" y="360.8" font-family='"Liberation Sans", sans-serif' font-size="4.3" fill="#2b3990" stroke="#2b3990" stroke-width="0.2" text-anchor="middle">4</text>
<text x="653.6" y="371.6" font-family='"Liberation Sans", sans-serif' font-size="4.3" fill="#e8262b" stroke="#e8262b" stroke-width="0.2" text-anchor="middle">1</text>
<text x="674.5" y="338.1" font-family='"Liberation Sans", sans-serif' font-size="3.3" font-weight="bold" fill="#222" stroke="#222" stroke-width="0.2" text-anchor="middle">6</text>
<text x="674.5" y="381.8" font-family='"Liberation Sans", sans-serif' font-size="3.3" font-weight="bold" fill="#222" stroke="#222" stroke-width="0.2" text-anchor="middle">6</text>
<text x="674.5" y="360.8" font-family='"Liberation Sans", sans-serif' font-size="4.3" fill="#2b3990" stroke="#2b3990" stroke-width="0.2" text-anchor="middle">2</text>
<text x="674.5" y="371.6" font-family='"Liberation Sans", sans-serif' font-size="4.3" fill="#e8262b" stroke="#e8262b" stroke-width="0.2" text-anchor="middle">1</text>
<text x="695.4" y="338.1" font-family='"Liberation Sans", sans-serif' font-size="3.3" font-weight="bold" fill="#222" stroke="#222" stroke-width="0.2" text-anchor="middle">7</text>
<text x="695.4" y="381.8" font-family='"Liberation Sans", sans-serif' font-size="3.3" font-weight="bold" fill="#222" stroke="#222" stroke-width="0.2" text-anchor="middle">7</text>
<text x="695.4" y="360.8" font-family='"Liberation Sans", sans-serif' font-size="4.3" fill="#2b3990" stroke="#2b3990" stroke-width="0.2" text-anchor="middle">2</text>
<text x="695.4" y="371.6" font-family='"Liberation Sans", sans-serif' font-size="4.3" fill="#e8262b" stroke="#e8262b" stroke-width="0.2" text-anchor="middle">1</text>
<text x="716.2" y="338.1" font-family='"Liberation Sans", sans-serif' font-size="3.3" font-weight="bold" fill="#222" stroke="#222" stroke-width="0.2" text-anchor="middle">8</text>
<text x="716.2" y="381.8" font-family='"Liberation Sans", sans-serif' font-size="3.3" font-weight="bold" fill="#222" stroke="#222" stroke-width="0.2" text-anchor="middle">8</text>
<text x="716.2" y="360.8" font-family='"Liberation Sans", sans-serif' font-size="4.3" fill="#2b3990" stroke="#2b3990" stroke-width="0.2" text-anchor="middle">1</text>
<text x="716.2" y="371.6" font-family='"Liberation Sans", sans-serif' font-size="4.3" fill="#e8262b" stroke="#e8262b" stroke-width="0.2" text-anchor="middle">1</text>
<text x="737.1" y="338.1" font-family='"Liberation Sans", sans-serif' font-size="3.3" font-weight="bold" fill="#222" stroke="#222" stroke-width="0.2" text-anchor="middle">9</text>
<text x="737.1" y="381.8" font-family='"Liberation Sans", sans-serif' font-size="3.3" font-weight="bold" fill="#222" stroke="#222" stroke-width="0.2" text-anchor="middle">9</text>
<text x="737.1" y="360.8" font-family='"Liberation Sans", sans-serif' font-size="4.3" fill="#2b3990" stroke="#2b3990" stroke-width="0.2" text-anchor="middle">1</text>
<text x="737.1" y="371.6" font-family='"Liberation Sans", sans-serif' font-size="4.3" fill="#e8262b" stroke="#e8262b" stroke-width="0.2" text-anchor="middle">0</text>
<path d="M537.0,232.4H538.5M537.0,256.4H538.5M537.0,280.4H538.5M537.0,304.4H538.5M537.0,328.4H538.5M549.2,333V334.5M549.2,377V378.5M570.1,333V334.5M570.1,377V378.5M591.0,333V334.5M591.0,377V378.5M611.8,333V334.5M611.8,377V378.5M632.7,333V334.5M632.7,377V378.5M653.6,333V334.5M653.6,377V378.5M674.5,333V334.5M674.5,377V378.5M695.4,333V334.5M695.4,377V378.5M716.2,333V334.5M716.2,377V378.5M737.1,333V334.5M737.1,377V378.5" stroke="#444" stroke-width="0.6" fill="none"/>
<text transform="translate(528.0,280) rotate(-90)" font-family='"Liberation Sans", sans-serif' font-size="4.1" fill="#222" stroke="#222" stroke-width="0.15" text-anchor="middle">Survival probability (%)</text>
<text x="653.6" y="342.1" font-family='"Liberation Sans", sans-serif' font-size="4.1" font-weight="bold" fill="#222" stroke="#222" stroke-width="0.12" text-anchor="middle">Time (Years)</text>
<text x="653.6" y="385.6" font-family='"Liberation Sans", sans-serif' font-size="4.1" font-weight="bold" fill="#222" stroke="#222" stroke-width="0.12" text-anchor="middle">Time (Years)</text>
<text x="541.5" y="321.8" font-family='"Liberation Serif", serif' font-size="15.4" fill="#111"><tspan font-style="italic">p</tspan>=0.004</text>
<text x="538.5" y="350.1" font-family='"Liberation Sans", sans-serif' font-size="4.9" font-weight="bold" fill="#222" textLength="29.5" lengthAdjust="spacingAndGlyphs">Number at risk</text>
<path d="M538.5,352.2V377.2H744.0" stroke="#444" stroke-width="0.8" fill="none"/>
<path d="M533.0,357.4H539.0" stroke="#2b3990" stroke-width="1.3"/>
<path d="M533.0,369.2H539.0" stroke="#e8262b" stroke-width="1.3"/>
<text transform="translate(529.5,365) rotate(-90)" font-family='"Liberation Sans", sans-serif' font-size="4.6" font-weight="bold" fill="#333" text-anchor="middle">OS</text>
<text x="606.0" y="222.6" font-family='"Liberation Sans", sans-serif' font-size="5.2" font-weight="bold" fill="#222">OS</text>
<rect x="616.9" y="216" width="8.5" height="8.7" fill="#1f2f98" fill-opacity="0.28"/>
<path d="M617.4,220.4H624.9M621.1,218.6V222" stroke="#2b3990" stroke-width="0.9"/>
<text x="627.8" y="222.6" font-family='"Liberation Sans", sans-serif' font-size="5.3" font-weight="bold" fill="#222" textLength="24.8" lengthAdjust="spacingAndGlyphs">Low group</text>
<rect x="655.1" y="216" width="8.5" height="8.7" fill="#ff1a1a" fill-opacity="0.33"/>
<path d="M655.6,220.4H663.1M659.4,218.6V222" stroke="#e8262b" stroke-width="0.9"/>
<text x="666.0" y="222.6" font-family='"Liberation Sans", sans-serif' font-size="5.3" font-weight="bold" fill="#222" textLength="26.2" lengthAdjust="spacingAndGlyphs">High group</text>
</svg></body></html>
